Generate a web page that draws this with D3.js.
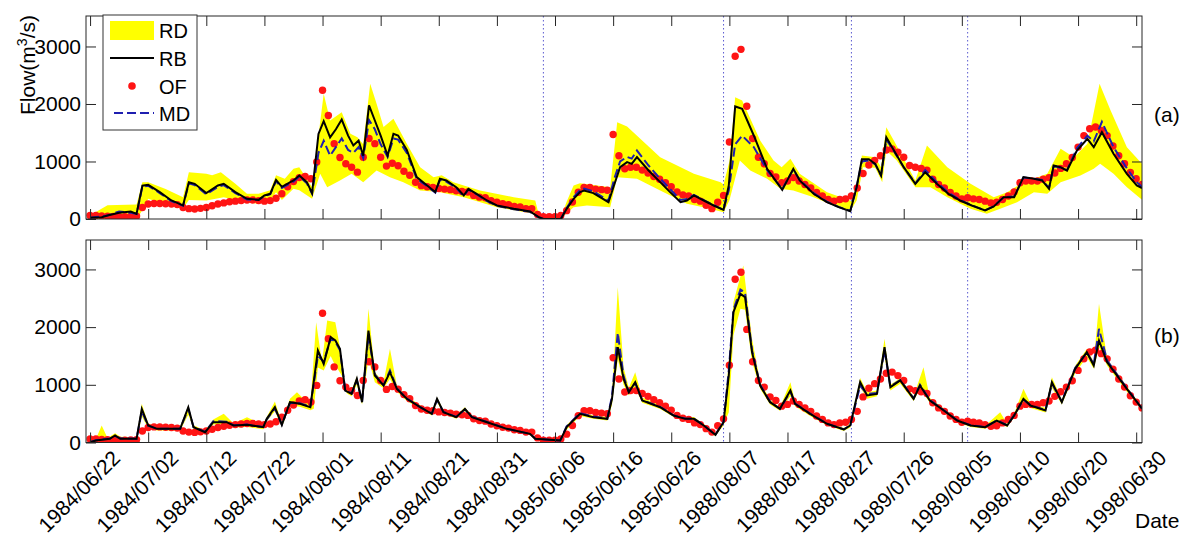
<!DOCTYPE html>
<html>
<head>
<meta charset="utf-8">
<script src="https://cdnjs.cloudflare.com/ajax/libs/d3/7.8.5/d3.min.js"></script>
<style>
  body { margin: 0; background: #fff; }
  svg { font-family: "Liberation Sans", Arial, sans-serif; }
</style>
</head>
<body>
<svg id="chart" width="1190" height="539"></svg>
<script>
// x tick labels (one every 10 days of the concatenated record)
var dateLabels = ["1984/06/22","1984/07/02","1984/07/12","1984/07/22","1984/08/01","1984/08/11",
  "1984/08/21","1984/08/31","1985/06/06","1985/06/16","1985/06/26","1988/08/07","1988/08/17",
  "1988/08/27","1989/07/26","1989/08/05","1998/06/10","1998/06/20","1998/06/30"];
var tickDays = [0,10,20,30,40,50,60,70,80,90,100,110,120,130,140,150,160,170,180];
var flowTicks = [0,1000,2000,3000];
// flood event boundaries (dotted lines)
var eventBreaks = [78,109,131,151];
var legendNames = ["RD","RB","OF","MD"];

// OF - observed flow, one value per day (day 0..181)
var obsFlow = [60,60,55,50,45,40,40,45,50,200,
  260,270,270,265,260,250,200,180,175,185,
  200,230,260,280,300,310,320,330,330,320,
  310,320,360,440,560,650,720,740,700,990,
  2240,1800,1310,1070,960,900,815,1075,1400,1310,
  1075,920,970,925,830,760,640,580,560,550,
  530,520,510,490,480,470,410,380,370,320,
  290,265,250,220,210,180,180,80,40,40,
  40,60,145,295,465,550,550,520,510,500,
  1470,1100,875,900,900,850,800,740,690,630,
  560,470,420,400,340,310,240,180,290,410,
  1340,2830,2950,1960,1400,1075,960,790,730,630,
  660,720,660,600,540,460,400,340,310,340,
  350,400,540,790,940,1020,1100,1200,1220,1160,
  1075,930,900,880,850,690,600,540,460,400,
  350,370,350,340,310,280,290,340,400,470,
  630,660,660,660,690,720,800,880,960,1070,
  1250,1450,1570,1600,1540,1450,1270,1100,960,810,
  700,600];

// panel (a): [day, flow]
var rbA = [[0,20],[2,30],[3,60],[5,110],[7,130],[8,90],[9,580],[10,594],[12,467],[14,322],[16,235],
  [17,640],[18,612],[20,450],[22,583],[23,612],[25,467],[27,351],[29,333],[30,409],[31,438],[32,680],
  [33,560],[35,670],[36,757],[37.3,641],[38.2,450],[39.3,1480],[40.2,1700],[41.3,1420],[42.3,1560],
  [43.3,1730],[44.4,1450],[45.3,1280],[46.2,1365],[47,1100],[48,1974],[49,1713],[50,1450],[51.2,1104],
  [52.2,1481],[53,1452],[54.5,1200],[56.2,728],[58,583],[59.4,467],[60.2,699],[61.3,670],[63,554],
  [64.3,409],[65.1,525],[66.5,438],[68.3,322],[70,235],[72.9,177],[75.7,130],[77.2,32],[78,0],[81,0],
  [82,177],[83.2,351],[84.3,467],[85,496],[86.6,450],[89.2,293],[90.2,600],[91.2,901],[92.4,988],
  [93.2,959],[94.1,1075],[96.1,843],[98.1,641],[99.8,467],[101.6,293],[102.7,322],[103.9,409],
  [105.6,322],[107.3,235],[109,160],[109.9,583],[111,1957],[112.2,1916],[114.2,1452],[116.5,872],
  [119.1,507],[121,872],[122.1,670],[124.5,438],[126.8,293],[128.8,206],[130.8,136],[131.9,554],
  [132.8,1040],[134,1040],[135.1,959],[136.1,757],[137,1423],[138,1249],[140,901],[142,612],
  [143.7,814],[145.7,612],[147.7,438],[149.7,322],[151.7,235],[154,148],[155.5,217],[157.2,380],
  [159,380],[160.6,728],[162.4,699],[163.8,670],[165,525],[165.8,930],[167,900],[168.1,843],
  [169.8,1191],[171.6,1394],[172.7,1249],[174.1,1510],[176.1,1133],[178.4,785],[180.1,583],[181,536]];
var mdA = [[0,20],[3,60],[5,130],[7,110],[8,90],[9,560],[10,580],[12,450],[14,310],[16,230],[17,620],
  [18,590],[20,430],[22,560],[23,590],[25,450],[27,340],[29,330],[30,400],[31,430],[32,660],[33,540],
  [35,650],[36,740],[37.3,620],[38.2,440],[39.3,1150],[40.2,1360],[41.3,1100],[42.3,1250],[43.3,1400],
  [44.4,1200],[45.3,1150],[46.2,1250],[47,1060],[48,1720],[49,1560],[50,1300],[51.2,1080],[52.2,1400],
  [53,1380],[54.5,1150],[56.2,700],[58,570],[59.4,460],[60.2,680],[61.3,650],[63,540],[64.3,400],
  [65.1,510],[66.5,430],[68.3,310],[70,230],[72.9,170],[75.7,125],[77.2,30],[78,0],[81,0],[82,190],
  [83.2,380],[84.3,500],[85,530],[86.6,480],[89.2,320],[90.2,700],[91.2,1000],[92.4,1080],[93.2,1050],
  [94.1,1190],[96.1,930],[98.1,700],[99.8,520],[101.6,330],[102.7,350],[103.9,420],[105.6,330],
  [107.3,240],[109,160],[109.9,500],[111,1300],[112.2,1450],[114.2,1250],[116.5,850],[119.1,520],
  [121,860],[122.1,680],[124.5,450],[126.8,300],[128.8,210],[130.8,140],[131.9,560],[132.8,1000],
  [134,1020],[135.1,950],[136.1,760],[137,1380],[138,1230],[140,900],[142,620],[143.7,850],[145.7,640],
  [147.7,460],[149.7,330],[151.7,240],[154,150],[155.5,220],[157.2,380],[159,390],[160.6,720],
  [162.4,700],[163.8,680],[165,540],[165.8,920],[167,890],[168.1,850],[169.8,1230],[171.6,1450],
  [172.7,1350],[174.1,1690],[176.1,1250],[178.4,880],[180.1,640],[181,560]];
var rdHiA = [[0,30],[1,120],[3,240],[8,250],[9,640],[10,640],[13,520],[16,380],[17,814],[20,785],
  [21,760],[22.5,814],[25,612],[27,438],[29,438],[30,470],[31,500],[32,760],[33.5,700],[35,872],
  [36,901],[38.2,554],[40.2,2177],[41.3,1713],[43.3,1858],[44.8,1481],[46,1420],[47,1300],[48.2,2350],
  [49.3,2003],[50.5,1600],[52.2,1742],[54.5,1307],[56.8,901],[59.1,728],[60.5,760],[62.5,641],
  [67.1,496],[72.9,380],[76.6,322],[77.3,40],[81,20],[82,300],[83.2,583],[84.3,623],[89.5,554],
  [90.7,1684],[92.4,1609],[98.1,1075],[103.9,786],[108.5,641],[109,600],[110,1000],[111,2119],
  [112.2,2061],[115.3,1365],[117.6,1017],[119,900],[120.5,1046],[122.1,786],[126.8,467],[130.8,322],
  [131.5,300],[132.8,1104],[135.1,1075],[136.1,900],[137,1597],[138.3,1365],[142,670],[144,1278],
  [147.5,901],[151.5,612],[155.5,380],[157.8,467],[160.1,612],[164.7,786],[167,1220],[169.3,1075],
  [171.6,1307],[173.7,2350],[175.6,1887],[178.4,1249],[181,959]];
var rdLoA = [[0,0],[8,0],[9,150],[10,350],[14,220],[16,177],[17,330],[20,322],[23,380],[25,330],
  [27,293],[29,264],[30,300],[31,320],[32,467],[33,330],[35,525],[36,500],[38.2,351],[39.6,786],
  [40.8,554],[43,670],[45,786],[47,641],[49.3,843],[51.6,728],[53.9,641],[56.8,496],[60,470],
  [64.3,380],[70,206],[76.3,90],[77.3,0],[81,0],[82,100],[83.2,206],[85.5,235],[89.5,206],[90.7,728],
  [94.1,699],[98.1,496],[102.7,264],[106.7,177],[109,119],[110,322],[111.8,1017],[113.6,843],
  [116.5,699],[118.8,525],[121,496],[124.5,380],[127.9,235],[130.8,136],[131.9,322],[133,901],
  [135.1,890],[136.3,641],[137,1191],[138.8,1017],[142,554],[144.6,554],[147.5,380],[151.5,177],
  [154.3,90],[156.6,177],[159.5,293],[162.4,467],[164.7,438],[167,641],[170.4,757],[172.7,872],
  [173.8,959],[176.1,786],[178.4,554],[181,333]];

// panel (b): [day, flow]
var rbB = [[0,5],[1,35],[3.4,64],[4.3,121],[5.2,64],[8,64],[8.9,583],[10,295],[11.5,237],[15.5,237],
  [16.9,612],[17.8,266],[19.8,179],[21.2,352],[23.5,352],[24.7,295],[27,306],[29.8,266],[30.4,410],
  [31.8,612],[33,306],[34.4,699],[36.1,670],[37.9,612],[39.2,1594],[40.2,1363],[41.4,1826],[42.2,1768],
  [43,1623],[43.9,901],[45,843],[45.9,1103],[46.8,699],[47.9,1941],[49,1161],[50.5,988],[51.6,1219],
  [52.8,930],[54.5,757],[56.8,612],[58.8,497],[59.7,757],[60.8,526],[63,439],[64.5,583],[65.7,439],
  [68.3,352],[71.7,237],[75.7,150],[76.6,64],[80.9,35],[82,266],[84.3,497],[86.6,439],[89,410],
  [89.8,757],[90.8,1652],[91.8,1103],[92.7,872],[93.8,1046],[95,728],[98.1,612],[100.4,468],
  [102.4,410],[103.9,410],[105.6,295],[107.6,133],[109,352],[109.9,1161],[110.7,2259],[111.9,2577],
  [112.7,2519],[113.9,1566],[115.3,988],[117,699],[118.7,583],[120.5,901],[121.3,670],[123.9,497],
  [126.8,324],[129.7,225],[130.8,295],[132.5,1046],[133.7,815],[135.4,843],[136.7,1652],[137.7,959],
  [139.4,1075],[141.7,757],[142.8,988],[144.5,728],[146.9,555],[149.2,381],[151.5,295],[154,266],
  [156,381],[157.8,295],[159,468],[160.6,757],[161.8,641],[164.4,555],[165.5,1046],[167.2,699],
  [169.5,1277],[171.5,1566],[172.7,1334],[173.6,1768],[175,1392],[178.4,930],[180.8,612],[181,590]];
var mdB = [[0,5],[1,40],[3.4,70],[4.3,110],[5.2,70],[8,64],[8.9,540],[10,290],[11.5,240],[15.5,240],
  [16.9,580],[17.8,270],[19.8,185],[21.2,370],[23.5,360],[24.7,300],[27,310],[29.8,270],[30.4,400],
  [31.8,590],[33,310],[34.4,690],[36.1,680],[37.9,620],[39.2,1500],[40.2,1400],[41.4,1800],[42.2,1750],
  [43,1600],[43.9,910],[45,850],[45.9,1080],[46.8,710],[47.9,1850],[49,1180],[50.5,990],[51.6,1250],
  [52.8,940],[54.5,760],[56.8,615],[58.8,500],[59.7,740],[60.8,530],[63,445],[64.5,575],[65.7,445],
  [68.3,355],[71.7,240],[75.7,150],[76.6,64],[80.9,35],[82,280],[84.3,510],[86.6,450],[89,415],
  [89.8,800],[90.8,1900],[91.8,1150],[92.7,880],[93.8,1030],[95,735],[98.1,615],[100.4,470],
  [102.4,415],[103.9,412],[105.6,298],[107.6,135],[109,360],[109.9,1250],[110.7,2300],[111.9,2650],
  [112.7,2600],[113.9,1600],[115.3,1000],[117,705],[118.7,585],[120.5,880],[121.3,675],[123.9,500],
  [126.8,326],[129.7,228],[130.8,300],[132.5,980],[133.7,840],[135.4,860],[136.7,1600],[137.7,975],
  [139.4,1080],[141.7,765],[142.8,1000],[144.5,735],[146.9,558],[149.2,384],[151.5,298],[154,268],
  [156,384],[157.8,300],[159,470],[160.6,740],[161.8,650],[164.4,560],[165.5,1020],[167.2,710],
  [169.5,1290],[171.5,1560],[172.7,1360],[173.6,1970],[175,1420],[178.4,940],[180.8,615],[181,595]];
var rdHiB = [[0,30],[1,60],[2,295],[3,80],[4.3,160],[5.2,100],[8,90],[8.9,670],[10,330],[11.5,270],
  [15.5,270],[16.9,641],[17.8,300],[19.8,210],[21.2,400],[23,497],[24.7,330],[27,439],[29.8,300],
  [30.4,440],[31.8,711],[33,340],[34.4,760],[35.6,872],[37.9,640],[38.9,2086],[39.9,1392],[40.8,2114],
  [42.2,2086],[43,1650],[43.9,950],[45,900],[45.9,1150],[46.8,740],[47.9,2317],[49,1219],[50.5,1050],
  [51.6,1623],[52.8,980],[54.5,800],[56.8,650],[58.8,530],[59.7,785],[60.8,560],[63,470],[64.5,612],
  [65.7,470],[68.3,380],[71.7,260],[75.7,170],[76.6,80],[80.9,50],[82,300],[84.3,530],[86.6,470],
  [89,440],[89.8,800],[90.8,2692],[91.8,1300],[92.7,950],[93.8,1219],[95,780],[98.1,650],[100.4,500],
  [102.4,440],[103.9,440],[105.6,320],[107.6,150],[109,380],[109.9,1400],[110.7,2432],[112.4,3068],
  [113.9,1800],[115.3,1050],[117,740],[118.7,610],[120.5,1046],[121.3,710],[123.9,530],[126.8,350],
  [129.7,250],[130.8,320],[132.5,1120],[133.7,870],[135.4,900],[136.7,1797],[137.7,1000],[139.4,1120],
  [141.7,800],[143.4,1306],[144.5,770],[146.9,590],[149.2,410],[151.5,320],[154,290],[156.6,526],
  [157.8,320],[159,500],[160.6,930],[161.8,680],[164.4,600],[165.5,1132],[167.2,740],[169.5,1330],
  [171.5,1620],[172.7,1400],[173.6,2403],[175,1450],[178.4,970],[180.8,640],[181,620]];
var rdLoB = [[0,0],[8,30],[8.9,450],[10,250],[11.5,210],[15.5,210],[16.9,480],[17.8,240],[19.8,150],
  [21.2,310],[23.5,320],[24.7,260],[27,270],[29.8,230],[30.4,370],[31.8,540],[33,270],[34.4,640],
  [36.1,620],[37.9,560],[38.5,583],[39.2,1300],[40.2,1250],[41.4,1500],[41.9,1392],[43.3,1161],
  [44.2,850],[45,800],[45.9,1000],[46.8,660],[47.9,1450],[49,1046],[50.5,940],[51.6,1100],[52.8,880],
  [54.5,720],[56.8,580],[58.8,470],[59.7,700],[60.8,500],[63,410],[64.5,540],[65.7,410],[68.3,330],
  [71.7,215],[75.7,130],[76.6,40],[80.9,20],[82,220],[84.3,460],[86.6,410],[89,380],[89.8,650],
  [90.8,1450],[91.8,1000],[92.7,820],[93.8,950],[95,690],[98.1,580],[100.4,440],[102.4,380],
  [103.9,380],[105.6,270],[107.6,110],[109,300],[109.9,526],[110.7,1854],[111.9,2317],[112.7,2300],
  [113.9,1400],[115.3,930],[117,660],[118.7,550],[120.5,800],[121.3,630],[123.9,460],[126.8,300],
  [129.7,200],[130.8,260],[132.5,960],[133.7,760],[135.4,800],[136.7,1500],[137.7,900],[139.4,1020],
  [141.7,720],[142.8,930],[144.5,690],[146.9,520],[149.2,350],[151.5,270],[154,240],[156,340],
  [157.8,270],[159,430],[160.6,700],[161.8,600],[164.4,520],[165.5,950],[167.2,660],[169.5,1200],
  [171.5,1480],[172.7,1280],[173.6,1650],[175,1330],[178.4,880],[180.8,580],[181,560]];

var svg = d3.select("#chart");
var left = 86, right = 1142;
var x = d3.scaleLinear().domain([-0.7, 181]).range([left, right]);

var panels = [
  {id: "a", top: 16, bottom: 219, ymax: 3530, hi: rdHiA, lo: rdLoA, rb: rbA, md: mdA, tag: "(a)", tagY: 122},
  {id: "b", top: 240, bottom: 442.5, ymax: 3510, hi: rdHiB, lo: rdLoB, rb: rbB, md: mdB, tag: "(b)", tagY: 343}
];

function styleAxis(sel) {
  sel.attr("font-size", 21).attr("font-family", "'Liberation Sans', Arial, sans-serif");
  sel.select(".domain").remove();
  sel.selectAll(".tick line").attr("stroke", "#262626");
  sel.selectAll(".tick text").attr("fill", "#000");
}

panels.forEach(function(p, pi) {
  var y = d3.scaleLinear().domain([0, p.ymax]).range([p.bottom, p.top]);
  var g = svg.append("g");

  g.append("clipPath").attr("id", "clip" + p.id)
    .append("rect")
      .attr("x", left)
      .attr("y", p.top)
      .attr("width", right - left)
      .attr("height", p.bottom - p.top);

  var plot = g.append("g").attr("clip-path", "url(#clip" + p.id + ")");
  var line = d3.line().x(function(d) { return x(d[0]); }).y(function(d) { return y(d[1]); });

  // RD band
  plot.append("path")
    .attr("d", line(p.hi.concat(p.lo.slice().reverse())) + "Z")
    .attr("fill", "#ffff00");

  // event separators
  plot.selectAll(".brk")
    .data(eventBreaks)
    .join("line")
      .attr("x1", function(d) { return x(d); })
      .attr("x2", function(d) { return x(d); })
      .attr("y1", p.top)
      .attr("y2", p.bottom)
      .attr("stroke", "#5a5ad0")
      .attr("stroke-width", 1)
      .attr("stroke-dasharray", "1.5,2.5");

  // OF
  plot.selectAll("circle")
    .data(obsFlow)
    .join("circle")
      .attr("cx", function(d, i) { return x(i); })
      .attr("cy", function(d) { return y(d); })
      .attr("r", 3.7)
      .attr("fill", "#ff1414");

  // MD
  plot.append("path")
    .datum(p.md)
    .attr("d", line)
    .attr("fill", "none")
    .attr("stroke", "#1f1fb0")
    .attr("stroke-width", 2)
    .attr("stroke-dasharray", "9,4");

  // RB
  plot.append("path")
    .datum(p.rb)
    .attr("d", line)
    .attr("fill", "none")
    .attr("stroke", "#000")
    .attr("stroke-width", 2);

  // axes, ticks inside
  g.append("g")
    .attr("transform", "translate(" + left + ",0)")
    .call(d3.axisLeft(y).tickValues(flowTicks).tickSize(-10).tickPadding(5).tickFormat(d3.format("d")))
    .call(styleAxis);
  g.append("g")
    .attr("transform", "translate(" + right + ",0)")
    .call(d3.axisRight(y).tickValues(flowTicks).tickSize(-10).tickFormat(""))
    .call(styleAxis);
  g.append("g")
    .attr("transform", "translate(0," + p.top + ")")
    .call(d3.axisTop(x).tickValues(tickDays).tickSize(-10).tickFormat(""))
    .call(styleAxis);
  var bx = g.append("g")
    .attr("transform", "translate(0," + p.bottom + ")")
    .call(d3.axisBottom(x).tickValues(tickDays).tickSize(-10)
      .tickFormat(pi === 1 ? function(d, k) { return dateLabels[k]; } : ""))
    .call(styleAxis);
  if (pi === 1) {
    bx.selectAll(".tick text")
      .attr("x", 0)
      .attr("y", 0)
      .attr("dy", 0)
      .attr("font-size", 21)
      .attr("text-anchor", "end")
      .attr("transform", "translate(31,17) rotate(-45)");
  }

  g.append("rect")
    .attr("x", left)
    .attr("y", p.top)
    .attr("width", right - left)
    .attr("height", p.bottom - p.top)
    .attr("fill", "none")
    .attr("stroke", "#262626")
    .attr("stroke-width", 1);

  g.append("text")
    .attr("x", 1154)
    .attr("y", p.tagY)
    .attr("font-size", 21)
    .text(p.tag);
});

// y label
var yl = svg.append("text")
  .attr("transform", "translate(35,65) rotate(-90)")
  .attr("text-anchor", "middle")
  .attr("font-size", 21);
yl.append("tspan").text("Flow(m");
yl.append("tspan").attr("font-size", 14).attr("dy", -8).text("3");
yl.append("tspan").attr("dy", 8).text("/s)");

svg.append("text")
  .attr("x", 1135)
  .attr("y", 528)
  .attr("font-size", 21)
  .text("Date");

// legend
var lg = svg.append("g");
lg.append("rect")
  .attr("x", 103).attr("y", 15)
  .attr("width", 94).attr("height", 115)
  .attr("fill", "#fff").attr("stroke", "#333");
lg.append("rect")
  .attr("x", 110).attr("y", 21)
  .attr("width", 44).attr("height", 19)
  .attr("fill", "#ffff00");
lg.append("line")
  .attr("x1", 110).attr("y1", 58).attr("x2", 154).attr("y2", 58)
  .attr("stroke", "#000").attr("stroke-width", 2);
lg.append("circle")
  .attr("cx", 132).attr("cy", 86).attr("r", 3.8)
  .attr("fill", "#ff1414");
lg.append("line")
  .attr("x1", 114).attr("y1", 113).attr("x2", 154).attr("y2", 113)
  .attr("stroke", "#1f1fb0").attr("stroke-width", 2).attr("stroke-dasharray", "9,4");
lg.selectAll(".lt")
  .data(legendNames)
  .join("text")
    .attr("x", 159)
    .attr("y", function(d, i) { return 38 + i * 27.8; })
    .attr("font-size", 20)
    .text(function(d) { return d; });
</script>
</body>
</html>
